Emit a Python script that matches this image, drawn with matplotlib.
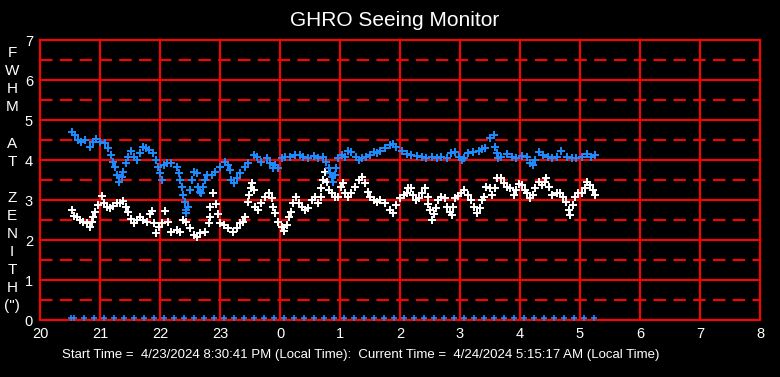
import matplotlib
matplotlib.use("Agg")
import matplotlib.pyplot as plt

plt.rcParams["font.family"] = ["Liberation Sans", "DejaVu Sans"]

# hours since midnight of start day (24.5 = 00:30 next day)
blue_t = [20.53, 20.58, 20.64, 20.69, 20.75, 20.83, 20.89, 20.94, 21.00, 21.08,
          21.14, 21.19, 21.22, 21.25, 21.28, 21.32, 21.36, 21.39, 21.43, 21.47,
          21.51, 21.56, 21.62, 21.67, 21.71, 21.77, 21.82, 21.88, 21.93, 21.97,
          22.00, 22.03, 22.06, 22.11, 22.19, 22.28, 22.31, 22.33, 22.36, 22.39,
          22.42, 22.43, 22.44, 22.47, 22.50, 22.53, 22.56, 22.61, 22.64, 22.67,
          22.69, 22.72, 22.75, 22.78, 22.86, 22.92, 23.00, 23.08, 23.14, 23.17,
          23.19, 23.23, 23.28, 23.33, 23.42, 23.47, 23.56, 23.61, 23.69, 23.78,
          23.83, 23.89, 23.92, 23.97, 24.03, 24.08, 24.17, 24.25, 24.33, 24.39,
          24.47, 24.56, 24.64, 24.72, 24.77, 24.81, 24.83, 24.86, 24.89, 24.92,
          24.94, 24.97, 25.03, 25.08, 25.14, 25.19, 25.27, 25.31, 25.36, 25.44,
          25.50, 25.56, 25.61, 25.67, 25.75, 25.83, 25.89, 25.94, 26.03, 26.11,
          26.19, 26.28, 26.36, 26.44, 26.53, 26.61, 26.69, 26.78, 26.85, 26.92,
          26.98, 27.04, 27.07, 27.14, 27.22, 27.31, 27.36, 27.42, 27.50, 27.56,
          27.58, 27.61, 27.64, 27.69, 27.78, 27.86, 27.94, 28.03, 28.11, 28.17,
          28.21, 28.25, 28.31, 28.39, 28.47, 28.53, 28.61, 28.69, 28.78, 28.86,
          28.94, 29.03, 29.11, 29.19, 29.25]
blue_v = [4.71, 4.62, 4.50, 4.46, 4.50, 4.33, 4.46, 4.52, 4.46, 4.42,
          4.29, 4.12, 3.96, 3.83, 3.62, 3.46, 3.58, 3.71, 3.92, 4.08,
          4.22, 4.08, 4.00, 4.17, 4.33, 4.31, 4.25, 4.17, 4.00, 3.83,
          3.67, 3.50, 3.88, 3.92, 3.93, 3.83, 3.67, 3.50, 3.33, 3.12,
          2.96, 2.75, 2.67, 2.83, 3.25, 3.50, 3.71, 3.67, 3.33, 3.21,
          3.17, 3.33, 3.50, 3.62, 3.62, 3.71, 3.83, 3.96, 3.88, 3.75,
          3.50, 3.42, 3.54, 3.67, 3.83, 3.92, 4.12, 4.08, 3.96, 4.04,
          3.92, 3.79, 3.88, 3.79, 4.04, 4.08, 4.08, 4.12, 4.12, 4.08,
          4.04, 4.11, 4.04, 4.08, 3.96, 3.79, 3.67, 3.58, 3.46, 3.62,
          3.79, 4.04, 4.12, 4.08, 4.22, 4.21, 4.08, 4.00, 4.04, 4.08,
          4.12, 4.21, 4.17, 4.22, 4.29, 4.38, 4.39, 4.33, 4.22, 4.14,
          4.12, 4.11, 4.08, 4.06, 4.08, 4.06, 4.08, 4.04, 4.17, 4.21,
          4.08, 4.00, 4.04, 4.17, 4.21, 4.22, 4.27, 4.29, 4.54, 4.62,
          4.33, 4.17, 4.04, 4.08, 4.14, 4.08, 4.06, 4.11, 4.08, 3.92,
          3.88, 4.00, 4.21, 4.12, 4.08, 4.04, 4.08, 4.22, 4.08, 4.06,
          4.04, 4.08, 4.14, 4.08, 4.12]

white_t = [20.53, 20.56, 20.61, 20.67, 20.72, 20.78, 20.83, 20.86, 20.89, 20.92,
           20.97, 21.03, 21.06, 21.11, 21.17, 21.22, 21.28, 21.33, 21.39, 21.43,
           21.47, 21.51, 21.56, 21.61, 21.67, 21.72, 21.78, 21.83, 21.86, 21.90,
           21.94, 21.99, 22.03, 22.08, 22.14, 22.19, 22.28, 22.33, 22.39, 22.44,
           22.50, 22.56, 22.61, 22.67, 22.75, 22.81, 22.83, 22.84, 22.89, 22.93,
           22.96, 23.00, 23.06, 23.14, 23.22, 23.28, 23.33, 23.39, 23.42, 23.46,
           23.48, 23.52, 23.54, 23.56, 23.58, 23.64, 23.69, 23.75, 23.82, 23.86,
           23.88, 23.92, 23.97, 24.03, 24.07, 24.11, 24.15, 24.18, 24.21, 24.27,
           24.31, 24.36, 24.42, 24.47, 24.53, 24.58, 24.64, 24.68, 24.69, 24.72,
           24.75, 24.78, 24.82, 24.86, 24.92, 24.97, 25.01, 25.05, 25.08, 25.14,
           25.19, 25.25, 25.31, 25.36, 25.42, 25.46, 25.50, 25.56, 25.61, 25.67,
           25.75, 25.83, 25.89, 25.94, 26.00, 26.06, 26.11, 26.14, 26.19, 26.22,
           26.26, 26.31, 26.36, 26.42, 26.46, 26.47, 26.50, 26.54, 26.57, 26.60,
           26.64, 26.69, 26.75, 26.79, 26.83, 26.86, 26.89, 26.92, 26.96, 27.02,
           27.07, 27.13, 27.19, 27.24, 27.28, 27.33, 27.37, 27.40, 27.44, 27.50,
           27.54, 27.58, 27.62, 27.68, 27.73, 27.79, 27.84, 27.90, 27.94, 27.99,
           28.04, 28.08, 28.12, 28.17, 28.21, 28.25, 28.31, 28.36, 28.42, 28.44,
           28.49, 28.54, 28.61, 28.67, 28.72, 28.77, 28.81, 28.84, 28.88, 28.92,
           28.97, 29.03, 29.08, 29.12, 29.17, 29.22, 29.25]
white_v = [2.75, 2.61, 2.58, 2.50, 2.44, 2.42, 2.33, 2.46, 2.58, 2.69,
           2.88, 3.11, 2.92, 2.83, 2.79, 2.86, 2.92, 2.92, 2.97, 2.83,
           2.69, 2.52, 2.42, 2.50, 2.58, 2.50, 2.46, 2.64, 2.72, 2.42,
           2.17, 2.33, 2.42, 2.72, 2.46, 2.21, 2.25, 2.19, 2.50, 2.46,
           2.29, 2.12, 2.08, 2.17, 2.21, 2.42, 2.58, 2.83, 3.17, 2.89,
           2.64, 2.42, 2.38, 2.29, 2.21, 2.29, 2.42, 2.46, 2.58, 2.96,
           3.12, 3.29, 3.42, 3.25, 2.83, 2.75, 2.92, 3.08, 3.17, 3.04,
           2.83, 2.67, 2.46, 2.33, 2.22, 2.38, 2.58, 2.69, 2.92, 3.08,
           2.92, 2.83, 2.75, 2.79, 3.00, 3.08, 2.92, 3.08, 3.29, 3.50,
           3.71, 3.46, 3.25, 3.17, 3.08, 3.08, 3.33, 3.42, 3.17, 3.08,
           3.17, 3.33, 3.50, 3.58, 3.42, 3.21, 3.08, 3.00, 2.96, 3.00,
           2.92, 2.75, 2.67, 2.88, 3.04, 3.12, 3.17, 3.31, 3.29, 3.12,
           3.00, 3.04, 3.17, 3.29, 3.08, 2.89, 2.75, 2.50, 2.64, 2.81,
           3.00, 3.08, 3.04, 2.83, 2.71, 2.62, 2.83, 3.04, 3.11, 3.17,
           3.25, 3.12, 3.00, 2.83, 2.67, 2.81, 3.00, 3.08, 3.33, 3.29,
           3.12, 3.29, 3.54, 3.54, 3.42, 3.33, 3.29, 3.12, 3.25, 3.39,
           3.38, 3.25, 3.17, 3.04, 3.12, 3.29, 3.46, 3.38, 3.46, 3.54,
           3.33, 3.12, 3.17, 3.17, 3.08, 2.96, 2.75, 2.62, 2.88, 3.08,
           3.17, 3.17, 3.29, 3.46, 3.38, 3.25, 3.12]

# row of markers along the zero line
base_t = [20.51, 20.56, 20.73, 20.90, 21.07, 21.23, 21.40, 21.57, 21.73, 21.90,
          22.07, 22.23, 22.40, 22.57, 22.73, 22.90, 23.07, 23.23, 23.40, 23.57,
          23.73, 23.90, 24.07, 24.23, 24.40, 24.57, 24.73, 24.90, 25.07, 25.23,
          25.40, 25.57, 25.73, 25.90, 26.07, 26.23, 26.40, 26.57, 26.73, 26.90,
          27.07, 27.23, 27.40, 27.57, 27.73, 27.90, 28.07, 28.23, 28.40, 28.57,
          28.73, 28.90, 29.07, 29.23]
base_v = [0.05] * len(base_t)

xticks = [20, 21, 22, 23, 24, 25, 26, 27, 28, 29, 30, 31, 32]
xlabels = ["20", "21", "22", "23", "0", "1", "2", "3", "4", "5", "6", "7", "8"]
ylabel_chars = ["F", "W", "H", "M", "", "A", "T", "", "Z", "E", "N", "I", "T", "H", '(")']

BLUE = "#1E8CFF"
RED = "#FF0000"

fig = plt.figure(figsize=(7.8, 3.77), dpi=100, facecolor="black")
ax = fig.add_axes([40 / 780, 1 - 320 / 377, 720 / 780, 280 / 377])
ax.set_facecolor("black")

ax.set_xlim(20, 32)
ax.set_ylim(0, 7)
ax.set_xticks(xticks)
ax.set_xticklabels(xlabels)
ax.set_yticks(range(8))
ax.set_yticks([0.5 + i for i in range(7)], minor=True)
ax.tick_params(which="both", length=0, colors="white", labelsize=10.5, pad=5)
ax.grid(which="major", color=RED, lw=1.5)
ax.grid(which="minor", axis="y", color=RED, lw=1.5, ls=(0, (6, 3.5)))
ax.set_axisbelow(True)
for s in ax.spines.values():
    s.set_color(RED)
    s.set_linewidth(1.5)

mk = dict(ls="none", marker="+", ms=5.8, mew=1.4, clip_on=False)
ax.plot(white_t, white_v, color="white", **mk)
ax.plot(blue_t, blue_v, color=BLUE, **mk)
ax.plot(base_t, base_v, color=BLUE, ls="none", marker="+", ms=5, mew=1.2,
        clip_on=False, zorder=3)

fig.text(395 / 780, 1 - 20 / 377, "GHRO Seeing Monitor", color="white",
         fontsize=15, ha="center", va="center")
for i, c in enumerate(ylabel_chars):
    if c:
        fig.text(12 / 780, 1 - (53.3 + i * 18.05) / 377, c, color="white",
                 fontsize=11, ha="center", va="center")
fig.text(62 / 780, 1 - 355 / 377,
         "Start Time =  4/23/2024 8:30:41 PM (Local Time):  Current Time =  4/24/2024 5:15:17 AM (Local Time)",
         color="white", fontsize=9.5, ha="left", va="center")

fig.savefig("out.png", dpi=100, facecolor="black")
